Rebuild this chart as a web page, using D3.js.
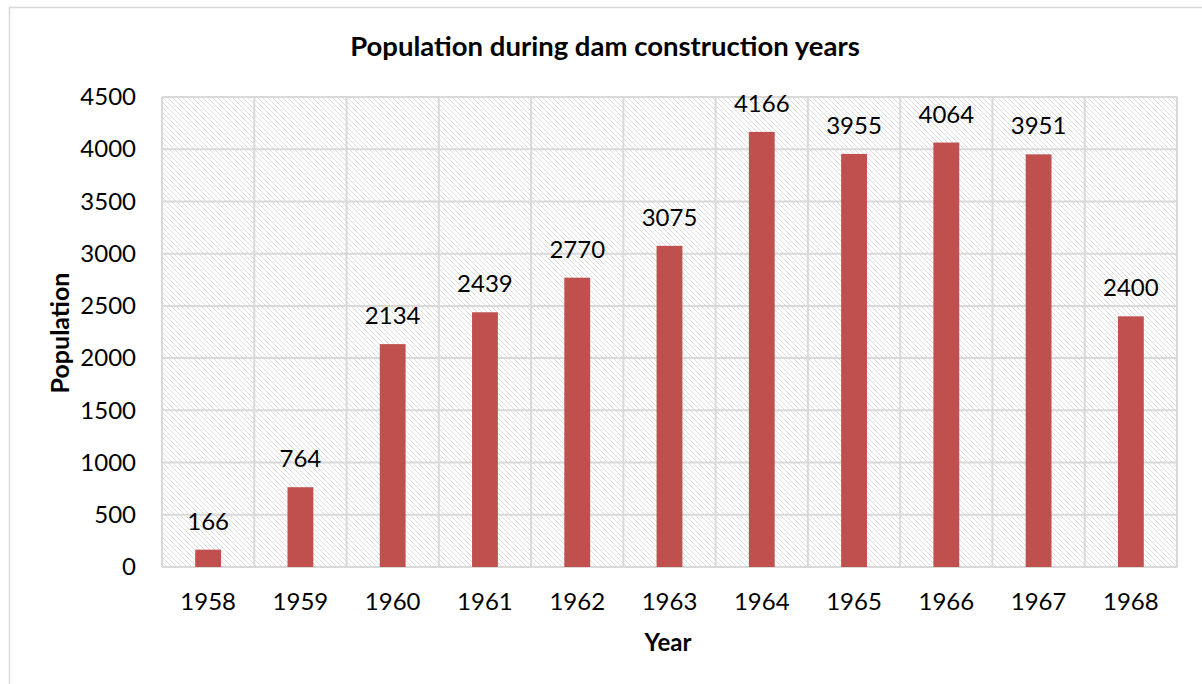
<!DOCTYPE html>
<html>
<head>
<meta charset="utf-8">
<script src="https://cdn.jsdelivr.net/npm/d3@7"></script>
<style>
  body { margin: 0; background: #fff; }
  text { font-family: Lato, "Open Sans", sans-serif; fill: #000; }
</style>
</head>
<body>
<div id="chart"></div>
<script>
// chart data
var years = ["1958", "1959", "1960", "1961", "1962", "1963", "1964", "1965", "1966", "1967", "1968"];
var population = [166, 764, 2134, 2439, 2770, 3075, 4166, 3955, 4064, 3951, 2400];
var yTicks = [0, 500, 1000, 1500, 2000, 2500, 3000, 3500, 4000, 4500];

var w = 1202, h = 684;
var margin = {top: 97, right: 25, bottom: 117, left: 162};
var width = w - margin.left - margin.right,
    height = h - margin.top - margin.bottom;

var svg = d3.select("#chart").append("svg")
    .attr("width", w)
    .attr("height", h);

// hatch fill for plot area
var defs = svg.append("defs");
var pat = defs.append("pattern")
    .attr("id", "hatch")
    .attr("patternUnits", "userSpaceOnUse")
    .attr("width", 5)
    .attr("height", 5);
pat.append("path")
    .attr("d", "M-1,-1 L6,6 M-1,4 L1,6 M4,-1 L6,1")
    .style("stroke", "#dcdcdc")
    .style("stroke-width", 1);

// chart border
svg.append("rect")
    .attr("x", 9.5)
    .attr("y", 7.5)
    .attr("width", w)
    .attr("height", h)
    .style("fill", "none")
    .style("stroke", "#d9d9d9")
    .style("stroke-width", 1.5);

var x = d3.scaleBand()
    .domain(years)
    .range([0, width])
    .paddingInner(0.72)
    .paddingOuter(0.36);

var y = d3.scaleLinear()
    .domain([0, 4500])
    .range([height, 0]);

var main = svg.append("g")
    .attr("transform", "translate(" + margin.left + "," + margin.top + ")");

main.append("rect")
    .attr("width", width)
    .attr("height", height)
    .style("fill", "url(#hatch)");

// horizontal gridlines
main.selectAll(".hgrid")
    .data(yTicks)
    .enter().append("line")
    .attr("class", "hgrid")
    .attr("x1", 0)
    .attr("x2", width)
    .attr("y1", function(d) { return y(d); })
    .attr("y2", function(d) { return y(d); })
    .style("stroke", "#d9d9d9")
    .style("stroke-width", 2);

// vertical gridlines at category edges
var step = x.step();
var edges = d3.range(years.length + 1);
main.selectAll(".vgrid")
    .data(edges)
    .enter().append("line")
    .attr("class", "vgrid")
    .attr("x1", function(i) { return i * step; })
    .attr("x2", function(i) { return i * step; })
    .attr("y1", 0)
    .attr("y2", height)
    .style("stroke", "#d9d9d9")
    .style("stroke-width", 2);

// bars
main.selectAll(".bar")
    .data(population)
    .enter().append("rect")
    .attr("class", "bar")
    .attr("x", function(d, i) { return x(years[i]); })
    .attr("width", x.bandwidth())
    .attr("y", function(d) { return y(d); })
    .attr("height", function(d) { return height - y(d); })
    .style("fill", "#c0504d");

// value labels
main.selectAll(".val")
    .data(population)
    .enter().append("text")
    .attr("class", "val")
    .attr("x", function(d, i) { return x(years[i]) + x.bandwidth() / 2; })
    .attr("y", function(d) { return y(d) - 20; })
    .style("text-anchor", "middle")
    .style("font-size", "24px")
    .text(function(d) { return d; });

// y axis
var yAxis = d3.axisLeft(y).tickValues(yTicks).tickFormat(d3.format("d")).tickSize(0).tickPadding(26);
main.append("g")
    .call(yAxis)
    .call(function(g) { g.select(".domain").remove(); })
    .selectAll("text")
    .style("font-size", "24px")
    .style("font-family", "Lato, sans-serif")
    .attr("fill", "#000");

// x axis
var xAxis = d3.axisBottom(x).tickSize(0).tickPadding(26);
main.append("g")
    .attr("transform", "translate(0," + height + ")")
    .call(xAxis)
    .call(function(g) { g.select(".domain").remove(); })
    .selectAll("text")
    .style("font-size", "24px")
    .style("font-family", "Lato, sans-serif")
    .attr("fill", "#000");

// title
svg.append("text")
    .attr("x", 605)
    .attr("y", 56)
    .style("text-anchor", "middle")
    .style("font-size", "27.5px")
    .style("font-weight", "bold")
    .text("Population during dam construction years");

// axis titles
svg.append("text")
    .attr("x", 668)
    .attr("y", 651)
    .style("text-anchor", "middle")
    .style("font-size", "24px")
    .style("font-weight", "bold")
    .text("Year");

svg.append("text")
    .attr("transform", "translate(69,333) rotate(-90)")
    .style("text-anchor", "middle")
    .style("font-size", "25px")
    .style("font-weight", "bold")
    .text("Population");
</script>
</body>
</html>
